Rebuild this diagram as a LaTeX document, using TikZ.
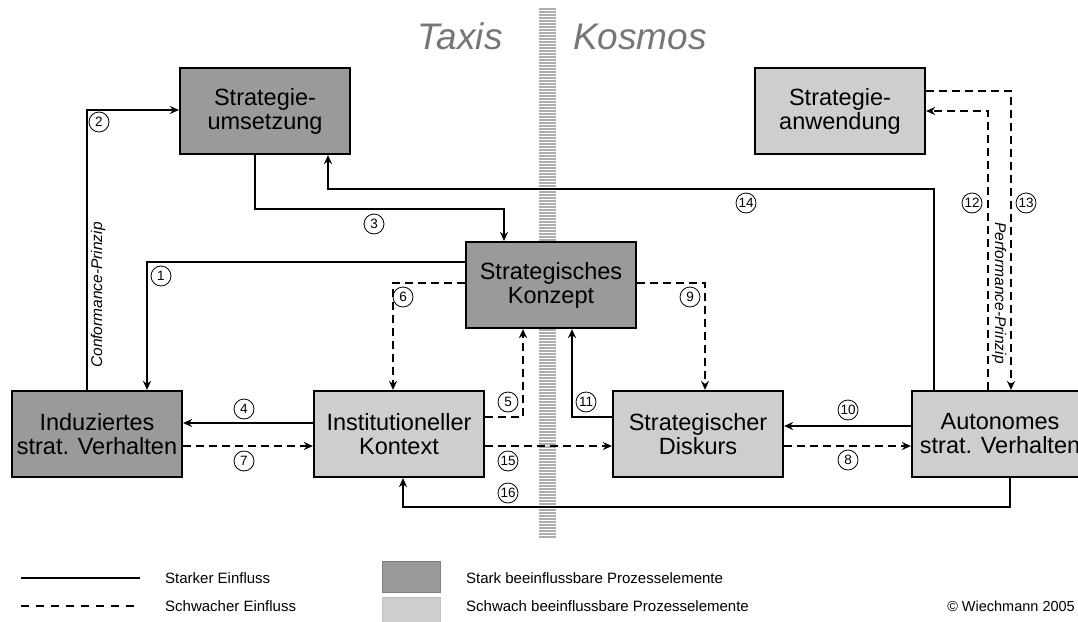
\documentclass[tikz,border=0pt]{standalone}
\usepackage{fontspec}
\setmainfont{Liberation Sans}
\usetikzlibrary{arrows.meta}

\definecolor{darkbox}{HTML}{9A9A9A}
\definecolor{lightbox}{HTML}{CECECE}
\definecolor{titlegray}{HTML}{767676}
\definecolor{stripe}{HTML}{ADADAD}

\tikzset{
  proc/.style={draw=black, line width=2.2pt, minimum width=170pt, minimum height=86pt,
    inner sep=0pt, align=center, font=\fontsize{23.5}{24}\selectfont},
  strongproc/.style={proc, fill=darkbox},
  weakproc/.style={proc, fill=lightbox},
  link/.style={line width=1.8pt, line join=miter},
  weak/.style={link, dash pattern=on 8pt off 5pt},
  tip/.style={-{Stealth[length=9pt,width=8pt,inset=3pt]}},
  num/.style={circle, draw, line width=0.8pt, minimum size=20pt, inner sep=0pt,
    font=\fontsize{13.5}{13.5}\selectfont},
  principle/.style={font=\fontsize{15.5}{15.5}\selectfont\itshape},
  side/.style={font=\fontsize{37}{37}\selectfont\itshape, text=titlegray, anchor=base},
  legendtext/.style={font=\fontsize{15}{15}\selectfont, anchor=west, inner sep=0pt},
}

\begin{document}
\begin{tikzpicture}[x=1pt, y=-1pt]
\useasboundingbox (0,0) rectangle (1078,621);
\clip (0,0) rectangle (1078,621);

% dividing band between Taxis and Kosmos
\foreach \y in {9,12,...,537}
  \draw[stripe, line width=1.5pt] (539,\y) -- (556,\y);

\node[side] (taxis) at (460,49) {Taxis};
\node[side] (kosmos) at (640,49) {Kosmos};

% process elements
\node[strongproc] (SU) at (265,111) {Strategie-\\umsetzung};
\node[weakproc]   (SA) at (840,111) {Strategie-\\anwendung};
\node[strongproc] (SK) at (551,285) {Strategisches\\Konzept};
\node[strongproc] (IV) at (97,434)  {Induziertes\\strat. Verhalten};
\node[weakproc]   (IK) at (399,434) {Institutioneller\\Kontext};
\node[weakproc]   (SD) at (698,434) {Strategischer\\Diskurs};
\node[weakproc, minimum width=176pt] (AV) at (1000,434) {Autonomes\\strat. Verhalten};

% corner points of the connectors
\coordinate (k1) at (147,262);
\coordinate (k2) at (87,110);
\coordinate (k3a) at (255,209);
\coordinate (k3b) at (504,209);
\coordinate (k4) at (0,423);
\coordinate (k5) at (523,417);
\coordinate (k6) at (393,283);
\coordinate (k7) at (0,446);
\coordinate (k9) at (705,283);
\coordinate (k10) at (0,426);
\coordinate (k11) at (572,417);
\coordinate (k12) at (988,111);
\coordinate (k13) at (1011,91);
\coordinate (k14a) at (934,189);
\coordinate (k14b) at (328,189);
\coordinate (k16a) at (1010,507);
\coordinate (k16b) at (403,507);

% strong influences
\draw[link, tip] (SK.west |- k1) -| (IV.north -| k1);
\draw[link, tip] (IV.north -| k2) |- (SU.west |- k2);
\draw[link, tip] (SU.south -| k3a) -- (k3a) -- (k3b) -- (SK.north -| k3b);
\draw[link, tip] (IK.west |- k4) -- (IV.east |- k4);
\draw[link, tip] (AV.west |- k10) -- (SD.east |- k10);
\draw[link, tip] (SD.west |- k11) -| (SK.south -| k11);
\draw[link, tip] (AV.north -| k14a) -- (k14a) -- (k14b) -- (SU.south -| k14b);
\draw[link, tip] (AV.south -| k16a) -- (k16a) -- (k16b) -- (IK.south -| k16b);

% weak influences
\draw[weak, tip] (IK.east |- k5) -| (SK.south -| k5);
\draw[weak, tip] (SK.west |- k6) -| (IK.north -| k6);
\draw[weak, tip] (IV.east |- k7) -- (IK.west |- k7);
\draw[weak, tip] (SD.east |- k7) -- (AV.west |- k7);
\draw[weak, tip] (SK.east |- k9) -| (SD.north -| k9);
\draw[weak, tip] (AV.north -| k12) |- (SA.east |- k12);
\draw[weak, tip] (SA.east |- k13) -| (AV.north -| k13);
\draw[weak, tip] (IK.east |- k7) -- (SD.west |- k7);

% numbering
\node[num] (n1)  at (161,276) {1};
\node[num] (n2)  at (99,122)  {2};
\node[num] (n3)  at (374,224) {3};
\node[num] (n4)  at (244,409) {4};
\node[num] (n5)  at (508,402) {5};
\node[num] (n6)  at (403,297) {6};
\node[num] (n7)  at (244,461) {7};
\node[num] (n8)  at (848,460) {8};
\node[num] (n9)  at (690,297) {9};
\node[num] (n10) at (848,410) {10};
\node[num] (n11) at (586,402) {11};
\node[num] (n12) at (972,203) {12};
\node[num] (n13) at (1026,203) {13};
\node[num] (n14) at (746,203) {14};
\node[num] (n15) at (508,461) {15};
\node[num] (n16) at (508,493) {16};

\node[principle, rotate=90]  (cp) at (98,295)  {Conformance-Prinzip};
\node[principle, rotate=-90] (pp) at (999,293) {Performance-Prinzip};

% legend
\coordinate (la) at (21,578);
\coordinate (lb) at (140,578);
\coordinate (lc) at (21,606);
\coordinate (ld) at (140,606);
\draw[line width=1.6pt] (la) -- (lb);
\draw[line width=1.6pt, dash pattern=on 8pt off 7pt] (lc) -- (ld);
\node[legendtext] (l1) at (165,578) {Starker Einfluss};
\node[legendtext] (l2) at (165,606) {Schwacher Einfluss};
\node[draw=gray, line width=0.8pt, fill=darkbox, minimum width=58pt, minimum height=31pt, inner sep=0pt] (sq1) at (411,577) {};
\node[draw=gray!50, line width=0.8pt, fill=lightbox, minimum width=58pt, minimum height=31pt, inner sep=0pt] (sq2) at (411,613) {};
\node[legendtext] (l3) at (466,578) {Stark beeinflussbare Prozesselemente};
\node[legendtext] (l4) at (466,606) {Schwach beeinflussbare Prozesselemente};
\node[legendtext, anchor=east, font=\fontsize{14.5}{14.5}\selectfont] (copy) at (1075,606) {© Wiechmann 2005};
\end{tikzpicture}
\end{document}
